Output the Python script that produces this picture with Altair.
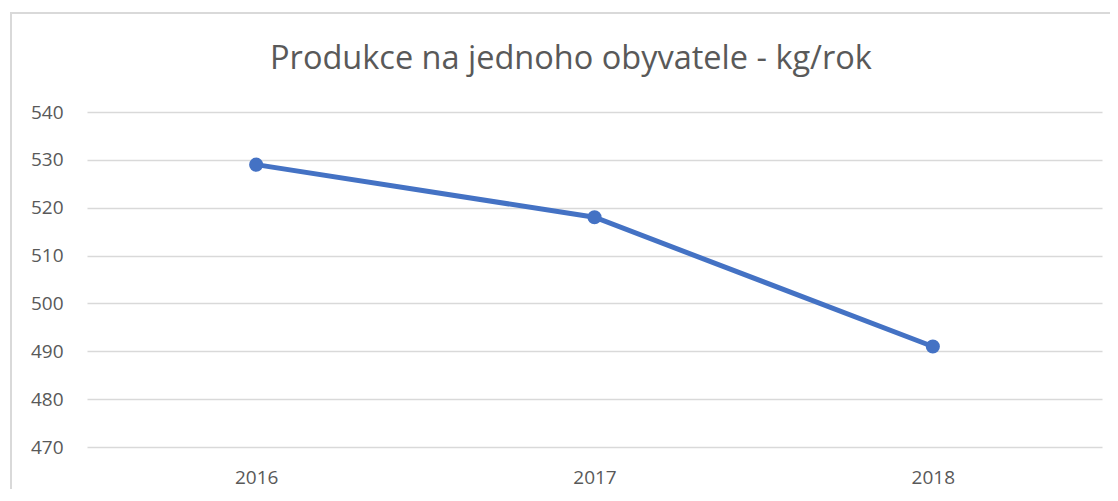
import altair as alt
import pandas as pd

years = ["2016", "2017", "2018"]
values = [529, 518, 491]
y_ticks = [470, 480, 490, 500, 510, 520, 530, 540]
title_text = "Produkce na jednoho obyvatele - kg/rok"

df = pd.DataFrame({"rok": years, "hodnota": values})

FONT = "Open Sans"
TXT = "#595959"
BLUE = "#4472C4"

x = alt.X("rok:N", sort=years, title=None,
          scale=alt.Scale(type="point", padding=0.5),
          axis=alt.Axis(labelAngle=0, ticks=False, domain=False, grid=False,
                        labelPadding=21, labelFontSize=19, labelColor=TXT, labelFont=FONT))
y = alt.Y("hodnota:Q", title=None,
          scale=alt.Scale(domain=[470, 540], nice=False, zero=False),
          axis=alt.Axis(values=y_ticks, ticks=False, domain=False, grid=True,
                        gridColor="#d9d9d9", gridWidth=1.5,
                        labelPadding=24, labelFontSize=19, labelColor=TXT, labelFont=FONT))

border = alt.Chart(pd.DataFrame({"a": [0]})).mark_rect(
    fill="transparent", stroke="#d9d9d9", strokeWidth=2, clip=False
).encode(x=alt.value(-76), x2=alt.value(1100), y=alt.value(-99), y2=alt.value(500))

title = alt.Chart(pd.DataFrame({"t": [title_text]})).mark_text(
    font=FONT, fontSize=32.5, color=TXT, align="center", baseline="alphabetic"
).encode(x=alt.value(484), y=alt.value(-43), text="t:N")

line = alt.Chart(df).mark_line(color=BLUE, strokeWidth=5).encode(x=x, y=y)
pts = alt.Chart(df).mark_circle(color=BLUE, size=200, opacity=1).encode(x=x, y=y)

chart = alt.layer(border, title, line, pts).properties(
    width=1015, height=335,
    background="white",
    autosize=alt.AutoSizeParams(type="none"),
    padding={"left": 79, "top": 104, "right": 8, "bottom": 42},
).configure_view(stroke=None, strokeWidth=0)

chart.save("out.html", embed_options={"renderer": "svg", "actions": False})
